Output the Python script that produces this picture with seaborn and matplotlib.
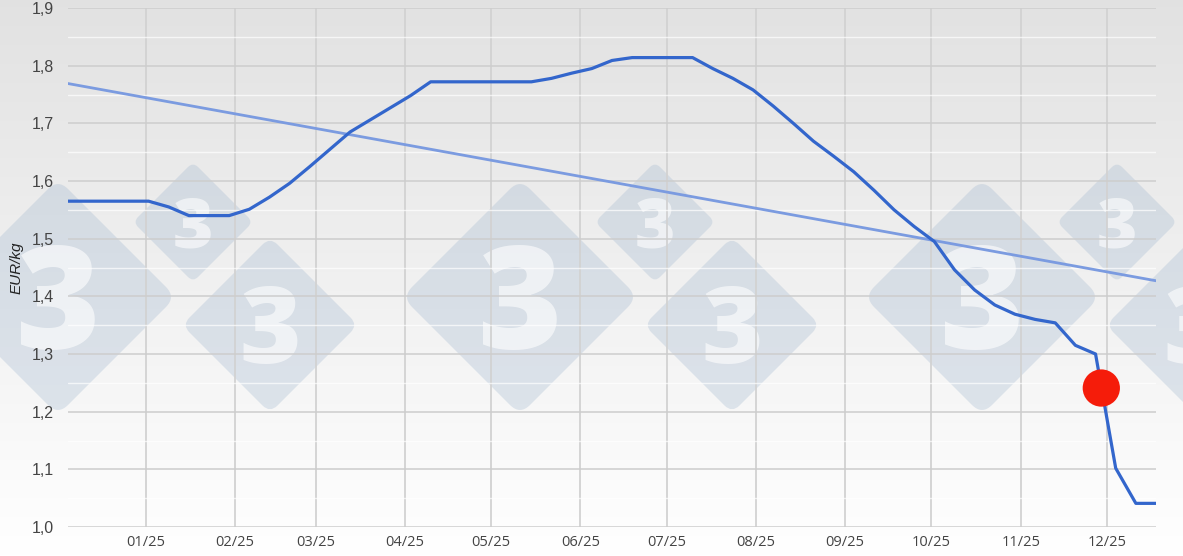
import numpy as np
import pandas as pd
import matplotlib
matplotlib.use('Agg')
import matplotlib.pyplot as plt
import matplotlib.dates as mdates
from matplotlib.patches import FancyBboxPatch
from matplotlib.transforms import Affine2D
from matplotlib.ticker import FuncFormatter, MultipleLocator
import seaborn as sns

# Weekly price, EUR/kg (Thursdays, 05/12/2024 -> 18/12/2025)
first_week = '2024-12-05'
prices = [1.565, 1.565, 1.565, 1.565, 1.565, 1.555, 1.540, 1.540, 1.540, 1.551,
          1.572, 1.596, 1.625, 1.655, 1.685, 1.706, 1.727, 1.748, 1.772, 1.772,
          1.772, 1.772, 1.772, 1.772, 1.778, 1.787, 1.795, 1.809, 1.814, 1.814,
          1.814, 1.814, 1.795, 1.778, 1.758, 1.730, 1.700, 1.669, 1.643, 1.616,
          1.584, 1.550, 1.521, 1.495, 1.446, 1.411, 1.385, 1.369, 1.360, 1.354,
          1.315, 1.300, 1.102, 1.041, 1.041]

# linear trend end points
trend_dates = ['2024-12-05', '2025-12-18']
trend_values = [1.769, 1.427]

# highlighted point
marker_date = ['2025-11-29']
marker_value = [1.241]

month_ticks = pd.date_range('2025-01-01', '2025-12-01', freq='MS')

df = pd.DataFrame({'date': pd.date_range(first_week, periods=len(prices), freq='7D'),
                   'price': prices})
trend = pd.DataFrame({'date': pd.to_datetime(trend_dates), 'price': trend_values})
marker = pd.DataFrame({'date': pd.to_datetime(marker_date), 'price': marker_value})

sns.set_theme(style='white')
plt.rcParams['font.family'] = ['Liberation Sans', 'DejaVu Sans']

W, H = 1183, 556
fig = plt.figure(figsize=(W / 100, H / 100), dpi=100)

# background gradient + watermark, in pixel coordinates
bg = fig.add_axes([0, 0, 1, 1], zorder=0)
grad = np.linspace(0.885, 1.0, 256).reshape(-1, 1)
bg.imshow(np.dstack([grad, grad, grad]), extent=(0, W, H, 0), aspect='auto')
bg.set_xlim(0, W)
bg.set_ylim(H, 0)
bg.axis('off')

wm_color = '#9eb5ce'
diamonds = [(58, 297, 118, 104), (520, 297, 118, 104), (982, 297, 118, 104),
            (193, 222, 60, 50), (655, 222, 60, 50), (1117, 222, 60, 50),
            (270, 325, 88, 76), (732, 325, 88, 76), (1194, 325, 88, 76)]
for cx, cy, h, fs in diamonds:
    s = h * np.sqrt(2)
    r = h * 0.12
    box = FancyBboxPatch((cx - s / 2, cy - s / 2), s, s,
                         boxstyle=f'round,pad=0,rounding_size={r}',
                         facecolor=wm_color, edgecolor='none', alpha=0.3)
    box.set_transform(Affine2D().rotate_deg_around(cx, cy, 45) + bg.transData)
    bg.add_patch(box)
    bg.text(cx, cy + fs * 0.5, '3', ha='center', va='baseline',
            fontsize=fs, fontweight='heavy', family='Open Sans',
            color='white', alpha=0.6)

# main chart
ax = fig.add_axes([68 / W, (H - 527) / H, (1156 - 68) / W, (527 - 8) / H], zorder=1)
ax.set_facecolor('none')

sns.lineplot(data=trend, x='date', y='price', ax=ax, color='#7b9be0',
             linewidth=2.0, zorder=3)
sns.lineplot(data=df, x='date', y='price', ax=ax, color='#3366cc',
             linewidth=2.3, zorder=4)
sns.scatterplot(data=marker, x='date', y='price', ax=ax, color='#f51c0a',
                s=720, edgecolor='none', zorder=5)

ax.set_xlim(df['date'].iloc[0], df['date'].iloc[-1])
ax.set_ylim(1.0, 1.9)

ax.yaxis.set_major_locator(MultipleLocator(0.1))
ax.yaxis.set_minor_locator(MultipleLocator(0.05))
ax.yaxis.set_major_formatter(FuncFormatter(lambda v, p: f'{v:.1f}'.replace('.', ',')))
ax.set_xticks(month_ticks)
ax.xaxis.set_major_formatter(mdates.DateFormatter('%m/%y'))

ax.grid(True, which='major', axis='y', color='#cdcdcd', linewidth=1.1, zorder=1)
ax.grid(True, which='minor', axis='y', color='#ffffff', linewidth=1.0, alpha=0.7, zorder=1)
ax.grid(True, which='major', axis='x', color='#d2d2d2', linewidth=1.3, zorder=1)
ax.set_axisbelow(True)
for sp in ax.spines.values():
    sp.set_visible(False)

ax.tick_params(axis='y', length=0, pad=10, labelsize=11.5, labelcolor='#444444')
ax.tick_params(axis='x', length=0, pad=6, labelsize=10.5, labelcolor='#444444')
for lbl in ax.get_xticklabels():
    lbl.set_family('Open Sans')

ax.set_xlabel('')
ax.set_ylabel('EUR/kg', fontsize=11, fontstyle='italic', color='#222222', labelpad=6)

fig.savefig('out.png', dpi=100)
